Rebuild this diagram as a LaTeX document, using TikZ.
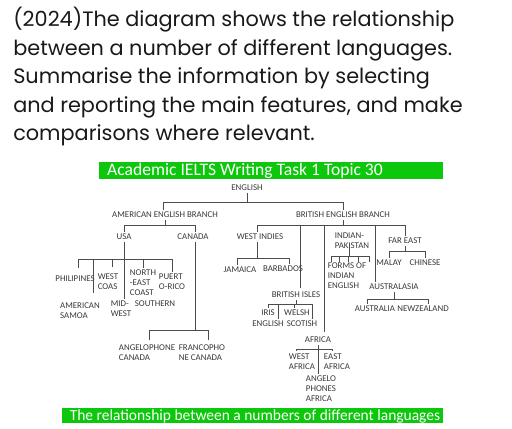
\documentclass[tikz,border=0pt]{standalone}
\usepackage{fontspec}
\newfontfamily\carlito{Carlito}
\newfontfamily\poppins{Poppins}
\usetikzlibrary{calc}

\begin{document}
\begin{tikzpicture}[x=0.025cm,y=-0.025cm,
  lang/.style={font=\carlito\fontsize{6.3}{7.1}\selectfont,text=clab,inner sep=1.5pt,align=center},
  langl/.style={lang,align=left},
  link/.style={draw=clink,line width=0.6pt},
  qline/.style={anchor=base west,inner sep=0pt,font=\poppins\fontsize{14.8}{20}\selectfont,text=cq}]
%
\useasboundingbox (0,0) rectangle (512,428);
%
\definecolor{cq}{rgb}{0.1,0.1,0.1}
\definecolor{clab}{rgb}{0.22,0.22,0.22}
\definecolor{clink}{rgb}{0.3,0.3,0.3}
\definecolor{cgreen}{rgb}{0.05,0.78,0.05}
%
\node[qline] (q1) at (13,26) {(2024)The diagram shows the relationship};
\node[qline] (q2) at (13,55) {between a number of different languages.};
\node[qline] (q3) at (13,83) {Summarise the information by selecting};
\node[qline] (q4) at (13,112) {and reporting the main features, and make};
\node[qline] (q5) at (13,140) {comparisons where relevant.};
%
\fill[cgreen] (99,162) rectangle (443,179);
\node[font=\carlito\fontsize{12.5}{14}\selectfont,text=white,inner sep=0pt] (title) at (245,170.5) {Academic IELTS Writing Task 1 Topic 30};
\fill[cgreen] (62,408) rectangle (443,423);
\node[font=\carlito\fontsize{11}{13}\selectfont,text=white,inner sep=0pt] (caption) at (255,416) {The relationship between a numbers of different languages};
%
\node[lang] (english) at (247,188) {ENGLISH};
\node[lang] (amb) at (165,215) {AMERICAN ENGLISH BRANCH};
\node[lang] (beb) at (343,215) {BRITISH ENGLISH BRANCH};
%
\node[lang] (usa) at (124,237) {USA};
\node[lang] (canada) at (193,237) {CANADA};
\node[lang] (phil) at (75,279) {PHILIPINES};
\node[langl] (westcoas) at (108,281.5) {WEST\\COAS};
\node[langl] (neast) at (143,283) {NORTH\\-EAST\\COAST};
\node[langl] (puerto) at (172,282) {PUERT\\O-RICO};
\node[langl] (samoa) at (80,311) {AMERICAN\\SAMOA};
\node[langl] (midwest) at (121,309) {MID-\\WEST};
\node[lang] (southern) at (155,304) {SOUTHERN};
\node[langl] (anglo) at (147,353) {ANGELOPHONE\\CANADA};
\node[langl] (franco) at (202,353) {FRANCOPHO\\NE CANADA};
%
\node[lang] (westind) at (260,237) {WEST INDIES};
\node[lang] (jamaica) at (240,270) {JAMAICA};
\node[lang] (barbados) at (283,269) {BARBADOS};
\node[langl] (indpak) at (352,241) {INDIAN-\\PAKISTAN};
\node[langl] (forms) at (347,276) {FORMS OF\\INDIAN\\ENGLISH};
\node[lang] (fareast) at (405,241) {FAR EAST};
\node[lang] (malay) at (389,263) {MALAY};
\node[lang] (chinese) at (425,263) {CHINESE};
\node[lang] (australasia) at (394,287) {AUSTRALASIA};
\node[lang] (australia) at (375,309) {AUSTRALIA};
\node[lang] (newz) at (423,309) {NEWZEALAND};
\node[lang] (bisles) at (296,295) {BRITISH ISLES};
\node[lang] (iris) at (268,313) {IRIS};
\node[lang] (welsh) at (297,313) {WELSH};
\node[lang] (engl) at (268,324) {ENGLISH};
\node[lang] (scotish) at (302,324) {SCOTISH};
\node[lang] (africa) at (318,340) {AFRICA};
\node[langl] (wafrica) at (302,361.5) {WEST\\AFRICA};
\node[langl] (eafrica) at (337,361.5) {EAST\\AFRICA};
\node[langl] (angafrica) at (321,389) {ANGELO\\PHONES\\AFRICA};
%
% english
\draw[link] (english.south) -- ++(0,9) coordinate (e1);
\draw[link] ($(amb.north)+(-2,0)$) |- (e1) -| (beb.north);
% american branch
\draw[link] (amb.south) -- ++(0,5) coordinate (a1);
\draw[link] (usa.north) |- (a1) -| ($(canada.north)+(2,0)$);
% usa
\draw[link] (usa.south) -- (usa.south |- midwest.north);
\coordinate (u1) at ($(usa.south)+(0,17)$);
\draw[link] ($(phil.north)+(3,-6)$) |- (u1) -| (puerto.north);
\draw[link] ($(westcoas.north)+(4,-4)$) |- (u1);
\draw[link] (neast.north) |- (u1);
\draw[link] ($(samoa.north)+(13,-8)$) |- (u1);
% canada
\draw[link] ($(canada.south)+(2,0)$) -- ++(0,88) coordinate (c1);
\draw[link] ($(anglo.north)+(2,-3)$) |- (c1) -| ($(franco.north)+(6,-3)$);
% british branch
\draw[link] (beb.south) -- ++(0,5) coordinate (b1);
\draw[link] ($(westind.north)+(-3,0)$) |- (b1) -| (fareast.north);
\draw[link] ($(bisles.north)+(4,-2)$) |- (b1);
\draw[link] ($(africa.north)+(6,-3)$) |- (b1);
\draw[link] ($(australasia.north)+(-19,0)$) |- (b1);
% west indies
\draw[link] ($(westind.south)+(-3,0)$) -- ++(0,16) coordinate (w1);
\draw[link] ($(jamaica.north)+(-3,0)$) |- (w1) -| ($(barbados.north)+(6,0)$);
% indian-pakistan
\draw[link] ($(indpak.south)+(-3,-7)$) -- ++(0,12) coordinate (p1);
\draw[link] ($(p1)+(-18,0)$) -- ($(p1)+(20,0)$);
\foreach \dx in {-18,-10,-1,9,20}
  \draw[link] ($(p1)+(\dx,0)$) -- ++(0,6);
% far east
\draw[link] (fareast.south) -- ++(0,5) coordinate (f1);
\draw[link] (malay.north) |- (f1) -| (chinese.north);
% australasia
\draw[link] (australasia.south) -- ++(0,7) coordinate (au1);
\draw[link] ($(australia.north)+(-8,0)$) |- (au1) -| ($(newz.north)+(5,0)$);
% british isles
\draw[link] (bisles.south) -- ++(0,4) coordinate (i1);
\draw[link] (iris.north) |- (i1) -| ($(scotish.north)+(10,0)$);
\draw[link] ($(engl.north)+(10,0)$) |- (i1);
\draw[link] ($(welsh.north)+(-3,0)$) |- (i1);
% africa
\draw[link] (africa.south) -- ++(0,4) coordinate (af1);
\draw[link] ($(wafrica.north)+(-6,0)$) |- (af1) -| ($(eafrica.north)+(-5,0)$);
\draw[link] ($(angafrica.north)+(-3,0)$) |- (af1);
%
\end{tikzpicture}
\end{document}
